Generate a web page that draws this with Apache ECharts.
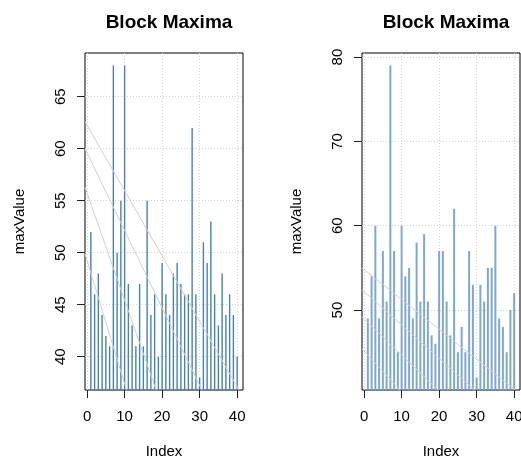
<!DOCTYPE html>
<html><head><meta charset="utf-8">
<script src="https://cdn.jsdelivr.net/npm/echarts@6/dist/echarts.min.js"></script>
<style>html,body{margin:0;padding:0;background:#fff}#c{width:521px;height:459px}</style>
</head><body><div id="c"></div>
<script>
// ---- data ----
const blockIndex = [1,2,3,4,5,6,7,8,9,10,11,12,13,14,15,16,17,18,19,20,
                    21,22,23,24,25,26,27,28,29,30,31,32,33,34,35,36,37,38,39,40];
const leftMaxValue = [52,46,48,44,42,41,68,50,55,68,47,43,41,47,41,55,44,46,40,49,
                      46,44,48,49,47,46,46,62,46,38,51,49,53,46,43,48,44,46,44,40];
const rightMaxValue = [49,54,60,49,57,51,79,57,45,60,54,55,49,58,51,59,51,47,46,57,
                       57,51,47,62,45,48,45,57,53,42,53,51,55,55,60,49,48,45,50,52];
const xTicks = [0,10,20,30,40];
const leftYTicks = [40,45,50,55,60,65];
const rightYTicks = [50,60,70,80];
// diagonal reference segments: start value at left edge, end index at bottom edge
const leftLineStartY = [62.6,60.0,56.3,49.9];
const leftLineEndX = [40.5,30.6,18.4,10.5];
const rightLineStartY = [55.0,52.4,49.2,45.4];
const rightLineEndX = [40.3,29.5,19.7,9.6];

const xMin = -0.56, xMax = 41.56;
const leftYMin = 36.8, leftYMax = 69.2;
const rightYMin = 40.52, rightYMax = 80.48;

const FONT = 'Liberation Sans, Arial, Helvetica, sans-serif';
const txt = {color:'#000', fontSize:15, fontFamily:FONT};

function xAxisCfg(gi){
  return {gridIndex:gi, type:'value', min:xMin, max:xMax,
    axisLine:{show:false, onZero:false},
    axisTick:{show:true, length:8, customValues:xTicks, lineStyle:{color:'#222'}},
    axisLabel:Object.assign({customValues:xTicks, margin:19}, txt),
    splitLine:{show:true, lineStyle:{color:'#d3d3d3', type:[1,2], width:1}},
    name:'Index', nameLocation:'middle', nameGap:54, nameTextStyle:txt};
}
function yAxisCfg(gi, mn, mx, ticks){
  return {gridIndex:gi, type:'value', min:mn, max:mx,
    axisLine:{show:false, onZero:false},
    axisTick:{show:true, length:8, customValues:ticks, lineStyle:{color:'#222'}},
    axisLabel:Object.assign({customValues:ticks, margin:17, rotate:90}, txt),
    splitLine:{show:true, lineStyle:{color:'#d3d3d3', type:[1,2], width:1}},
    name:'maxValue', nameLocation:'middle', nameGap:58, nameTextStyle:txt};
}
function barSeries(gi, vals, color, w){
  return {type:'bar', xAxisIndex:gi, yAxisIndex:gi, barWidth:w, clip:true,
    itemStyle:{color:color}, silent:true, animation:false,
    data: blockIndex.map((x,i)=>[x, vals[i]])};
}
function lineSeries(gi, startY, endX, yMin){
  return startY.map((y0,i)=>({type:'line', xAxisIndex:gi, yAxisIndex:gi, symbol:'none',
    silent:true, animation:false, z:5, clip:true,
    lineStyle:{color:'#d0d0d0', width:1},
    data:[[xMin, y0],[endX[i], yMin]]}));
}
const gridBase = {top:53, width:158, height:337, show:true, borderColor:'#000', borderWidth:1,
  backgroundColor:'transparent', containLabel:false, outerBoundsMode:'none'};

const chart = echarts.init(document.getElementById('c'), null, {renderer:'canvas'});
chart.setOption({
  backgroundColor:'#fff',
  animation:false,
  title:[
    {text:'Block Maxima', left:164, top:8, textAlign:'center',
     textStyle:{fontSize:19, fontWeight:'bold', fontFamily:FONT, color:'#000'}},
    {text:'Block Maxima', left:441, top:8, textAlign:'center',
     textStyle:{fontSize:19, fontWeight:'bold', fontFamily:FONT, color:'#000'}}
  ],
  grid:[
    Object.assign({left:85}, gridBase),
    Object.assign({left:362}, gridBase)
  ],
  xAxis:[xAxisCfg(0), xAxisCfg(1)],
  yAxis:[yAxisCfg(0, leftYMin, leftYMax, leftYTicks), yAxisCfg(1, rightYMin, rightYMax, rightYTicks)],
  series:[
    barSeries(0, leftMaxValue, '#4682b4', 1.4),
    barSeries(1, rightMaxValue, '#7ea8cf', 2)
  ].concat(lineSeries(0, leftLineStartY, leftLineEndX, leftYMin))
   .concat(lineSeries(1, rightLineStartY, rightLineEndX, rightYMin))
});
</script>
</body></html>
